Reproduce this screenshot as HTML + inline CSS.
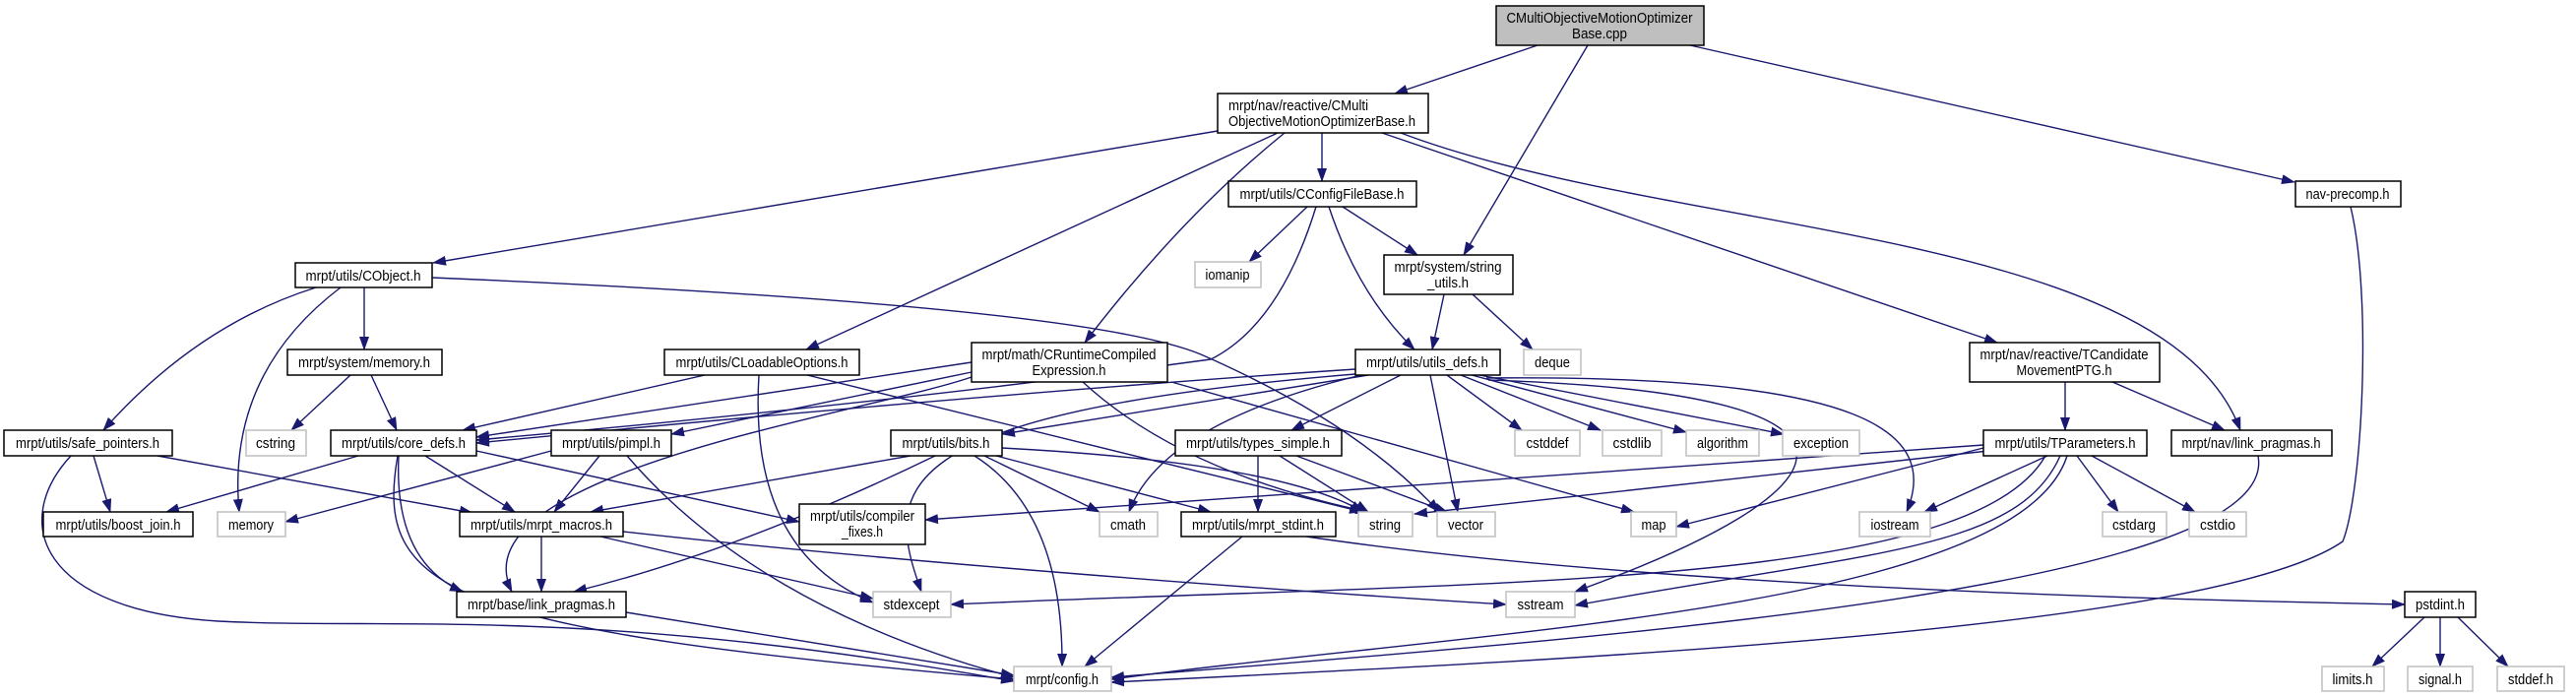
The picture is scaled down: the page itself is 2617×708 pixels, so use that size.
<!DOCTYPE html>
<html><head><meta charset="utf-8"><style>
html,body{margin:0;padding:0;background:#fff;}
svg{display:block;}
text{font-family:"Liberation Sans",sans-serif;font-size:15px;fill:#000;}
.n{fill:#fff;stroke:#000;stroke-width:1.5;}
.g{fill:#fff;stroke:#bfbfbf;stroke-width:1.5;}
.e{fill:none;stroke:#191970;stroke-width:1.4;marker-end:url(#a);}
</style></head><body>
<svg width="2617" height="708" viewBox="0 0 2617 708" xmlns="http://www.w3.org/2000/svg">
<defs><marker id="a" markerUnits="userSpaceOnUse" markerWidth="14" markerHeight="10" refX="13" refY="5" orient="auto"><path d="M0,0 L14,5 L0,10 z" fill="#191970"/></marker></defs>
<g>
<path class="e" d="M1562,46 L1417,95"/>
<path class="e" d="M1613,46 L1487,259"/>
<path class="e" d="M1717,46 L2331,185"/>
<path class="e" d="M1237,133 L440,267"/>
<path class="e" d="M1343,135 L1343,184"/>
<path class="e" d="M1298,135 L819,355"/>
<path class="e" d="M1305,135 Q1200,220 1102,348"/>
<path class="e" d="M1404,135 L2029,348"/>
<path class="e" d="M1423,135 C1700,240 2200,230 2276,437"/>
<path class="e" d="M1328,210 L1269,266"/>
<path class="e" d="M1364,210 L1440,259"/>
<path class="e" d="M1350,210 Q1380,300 1437,355"/>
<path class="e" d="M1337,210 Q1300,330 1230,365 Q900,410 484,447"/>
<path class="e" d="M1467,299 L1455,355"/>
<path class="e" d="M1496,299 L1557,355"/>
<path class="e" d="M321,292 Q200,330 105,437"/>
<path class="e" d="M346,292 Q230,380 243,520"/>
<path class="e" d="M370,292 L370,355"/>
<path class="e" d="M439,282 Q1100,310 1220,360 Q1380,430 1462,520"/>
<path class="e" d="M356,381 L296,437"/>
<path class="e" d="M377,381 L403,437"/>
<path class="e" d="M716,381 L470,437"/>
<path class="e" d="M771,381 Q760,560 887,612"/>
<path class="e" d="M820,381 L1384,520"/>
<path class="e" d="M987,368 L484,444"/>
<path class="e" d="M987,378 L682,441"/>
<path class="e" d="M1100,388 Q1200,480 1390,520"/>
<path class="e" d="M1190,388 L1660,520"/>
<path class="e" d="M987,383 C880,420 460,480 520,601"/>
<path class="e" d="M1377,375 Q1000,400 484,450"/>
<path class="e" d="M1390,381 L1018,441"/>
<path class="e" d="M1423,381 L1312,437"/>
<path class="e" d="M1383,381 Q1180,430 1147,520"/>
<path class="e" d="M1453,381 L1481,520"/>
<path class="e" d="M1470,381 L1546,437"/>
<path class="e" d="M1484,381 L1626,437"/>
<path class="e" d="M1495,381 L1713,439"/>
<path class="e" d="M1503,381 L1812,441"/>
<path class="e" d="M1510,384 C1900,380 1970,440 1937,520"/>
<path class="e" d="M1512,386 C1950,400 1880,500 1600,601"/>
<path class="e" d="M1377,380 C890,420 900,500 936,601"/>
<path class="e" d="M1018,455 Q1300,470 1385,520"/>
<path class="e" d="M1000,463 L1117,520"/>
<path class="e" d="M1012,463 L1230,520"/>
<path class="e" d="M990,463 Q1080,520 1079,677"/>
<path class="e" d="M925,463 L600,520"/>
<path class="e" d="M950,463 Q750,560 583,601"/>
<path class="e" d="M1300,463 L1390,520"/>
<path class="e" d="M1317,463 L1470,520"/>
<path class="e" d="M1278,463 L1278,520"/>
<path class="e" d="M1262,545 L1102,677"/>
<path class="e" d="M1327,545 Q1700,600 2443,614"/>
<path class="e" d="M2098,388 L2098,437"/>
<path class="e" d="M2146,388 L2260,437"/>
<path class="e" d="M2080,463 L1955,520"/>
<path class="e" d="M2110,463 L2152,520"/>
<path class="e" d="M2125,463 L2230,520"/>
<path class="e" d="M2015,455 L1703,535"/>
<path class="e" d="M2015,452 L940,528"/>
<path class="e" d="M2020,458 L1437,522"/>
<path class="e" d="M2093,463 C2050,560 1900,560 1600,615"/>
<path class="e" d="M2078,463 C2000,600 1500,590 966,614"/>
<path class="e" d="M2100,463 C2050,620 1500,640 1129,690"/>
<path class="e" d="M2294,463 C2320,600 1600,650 1129,688"/>
<path class="e" d="M2388,210 C2410,300 2400,500 2380,550 C2250,640 1600,670 1129,693"/>
<path class="e" d="M95,463 L112,520"/>
<path class="e" d="M160,463 L480,521"/>
<path class="e" d="M72,463 C10,530 40,620 222,631 C400,640 600,615 1030,692"/>
<path class="e" d="M364,463 L169,520"/>
<path class="e" d="M432,463 L523,520"/>
<path class="e" d="M484,458 L812,530"/>
<path class="e" d="M405,463 Q400,570 470,601"/>
<path class="e" d="M404,463 C380,600 450,640 1030,690"/>
<path class="e" d="M560,458 L290,530"/>
<path class="e" d="M609,463 L563,520"/>
<path class="e" d="M637,463 C720,560 850,640 1030,688"/>
<path class="e" d="M550,545 L550,601"/>
<path class="e" d="M610,545 L887,608"/>
<path class="e" d="M633,540 C900,570 1300,600 1530,614"/>
<path class="e" d="M636,622 L1030,686"/>
<path class="e" d="M2463,627 L2410,677"/>
<path class="e" d="M2479,627 L2479,677"/>
<path class="e" d="M2497,627 L2548,677"/>
</g>
<g text-anchor="middle">
<rect x="1520" y="6" width="211" height="40" fill="#bfbfbf" stroke="#000" stroke-width="1.5"/>
<text x="1625" y="23" textLength="189" lengthAdjust="spacingAndGlyphs">CMultiObjectiveMotionOptimizer</text>
<text x="1625" y="39" textLength="56" lengthAdjust="spacingAndGlyphs">Base.cpp</text>

<rect class="n" x="1237" y="95" width="214" height="40"/>
<text x="1248" y="112" text-anchor="start" textLength="142" lengthAdjust="spacingAndGlyphs">mrpt/nav/reactive/CMulti</text>
<text x="1248" y="128" text-anchor="start" textLength="190" lengthAdjust="spacingAndGlyphs">ObjectiveMotionOptimizerBase.h</text>

<rect class="n" x="1248" y="184" width="191" height="26"/><text x="1343" y="202" textLength="167" lengthAdjust="spacingAndGlyphs">mrpt/utils/CConfigFileBase.h</text>
<rect class="n" x="2332" y="184" width="107" height="26"/><text x="2385" y="202" textLength="85" lengthAdjust="spacingAndGlyphs">nav-precomp.h</text>
<rect class="n" x="300" y="267" width="139" height="25"/><text x="369" y="285" textLength="117" lengthAdjust="spacingAndGlyphs">mrpt/utils/CObject.h</text>
<rect class="g" x="1214" y="266" width="67" height="26"/><text x="1247" y="284" textLength="45" lengthAdjust="spacingAndGlyphs">iomanip</text>
<rect class="n" x="1406" y="259" width="131" height="40"/>
<text x="1471" y="276" textLength="109" lengthAdjust="spacingAndGlyphs">mrpt/system/string</text>
<text x="1471" y="292" textLength="42" lengthAdjust="spacingAndGlyphs">_utils.h</text>

<rect class="n" x="292" y="355" width="157" height="26"/><text x="370" y="373" textLength="134" lengthAdjust="spacingAndGlyphs">mrpt/system/memory.h</text>
<rect class="n" x="675" y="355" width="198" height="26"/><text x="774" y="373" textLength="175" lengthAdjust="spacingAndGlyphs">mrpt/utils/CLoadableOptions.h</text>
<rect class="n" x="987" y="348" width="199" height="40"/>
<text x="1086" y="365" textLength="177" lengthAdjust="spacingAndGlyphs">mrpt/math/CRuntimeCompiled</text>
<text x="1086" y="381" textLength="75" lengthAdjust="spacingAndGlyphs">Expression.h</text>
<rect class="n" x="1377" y="355" width="147" height="26"/><text x="1450" y="373" textLength="124" lengthAdjust="spacingAndGlyphs">mrpt/utils/utils_defs.h</text>
<rect class="g" x="1548" y="355" width="58" height="26"/><text x="1577" y="373" textLength="36" lengthAdjust="spacingAndGlyphs">deque</text>
<rect class="n" x="2001" y="348" width="193" height="40"/>
<text x="2097" y="365" textLength="171" lengthAdjust="spacingAndGlyphs">mrpt/nav/reactive/TCandidate</text>
<text x="2097" y="381" textLength="97" lengthAdjust="spacingAndGlyphs">MovementPTG.h</text>

<rect class="n" x="4" y="437" width="171" height="26"/><text x="89" y="455" textLength="146" lengthAdjust="spacingAndGlyphs">mrpt/utils/safe_pointers.h</text>
<rect class="g" x="250" y="437" width="61" height="26"/><text x="280" y="455" textLength="40" lengthAdjust="spacingAndGlyphs">cstring</text>
<rect class="n" x="336" y="437" width="148" height="26"/><text x="410" y="455" textLength="126" lengthAdjust="spacingAndGlyphs">mrpt/utils/core_defs.h</text>
<rect class="n" x="560" y="437" width="122" height="26"/><text x="621" y="455" textLength="100" lengthAdjust="spacingAndGlyphs">mrpt/utils/pimpl.h</text>
<rect class="n" x="905" y="437" width="113" height="26"/><text x="961" y="455" textLength="89" lengthAdjust="spacingAndGlyphs">mrpt/utils/bits.h</text>
<rect class="n" x="1194" y="437" width="169" height="26"/><text x="1278" y="455" textLength="146" lengthAdjust="spacingAndGlyphs">mrpt/utils/types_simple.h</text>
<rect class="g" x="1539" y="437" width="66" height="26"/><text x="1572" y="455" textLength="43" lengthAdjust="spacingAndGlyphs">cstddef</text>
<rect class="g" x="1628" y="437" width="60" height="26"/><text x="1658" y="455" textLength="39" lengthAdjust="spacingAndGlyphs">cstdlib</text>
<rect class="g" x="1713" y="437" width="74" height="26"/><text x="1750" y="455" textLength="52" lengthAdjust="spacingAndGlyphs">algorithm</text>
<rect class="g" x="1811" y="437" width="78" height="26"/><text x="1850" y="455" textLength="56" lengthAdjust="spacingAndGlyphs">exception</text>
<rect class="n" x="2015" y="437" width="166" height="26"/><text x="2098" y="455" textLength="143" lengthAdjust="spacingAndGlyphs">mrpt/utils/TParameters.h</text>
<rect class="n" x="2206" y="437" width="163" height="26"/><text x="2287" y="455" textLength="141" lengthAdjust="spacingAndGlyphs">mrpt/nav/link_pragmas.h</text>

<rect class="n" x="44" y="520" width="152" height="25"/><text x="120" y="538" textLength="127" lengthAdjust="spacingAndGlyphs">mrpt/utils/boost_join.h</text>
<rect class="g" x="221" y="520" width="69" height="25"/><text x="255" y="538" textLength="46" lengthAdjust="spacingAndGlyphs">memory</text>
<rect class="n" x="467" y="520" width="166" height="25"/><text x="550" y="538" textLength="144" lengthAdjust="spacingAndGlyphs">mrpt/utils/mrpt_macros.h</text>
<rect class="n" x="812" y="512" width="128" height="41"/>
<text x="876" y="529" textLength="106" lengthAdjust="spacingAndGlyphs">mrpt/utils/compiler</text>
<text x="876" y="545" textLength="42" lengthAdjust="spacingAndGlyphs">_fixes.h</text>
<rect class="g" x="1117" y="520" width="59" height="25"/><text x="1146" y="538" textLength="36" lengthAdjust="spacingAndGlyphs">cmath</text>
<rect class="n" x="1200" y="520" width="157" height="25"/><text x="1278" y="538" textLength="134" lengthAdjust="spacingAndGlyphs">mrpt/utils/mrpt_stdint.h</text>
<rect class="g" x="1380" y="520" width="55" height="25"/><text x="1407" y="538" textLength="32" lengthAdjust="spacingAndGlyphs">string</text>
<rect class="g" x="1460" y="520" width="59" height="25"/><text x="1489" y="538" textLength="36" lengthAdjust="spacingAndGlyphs">vector</text>
<rect class="g" x="1657" y="520" width="46" height="25"/><text x="1680" y="538" textLength="25" lengthAdjust="spacingAndGlyphs">map</text>
<rect class="g" x="1889" y="520" width="72" height="25"/><text x="1925" y="538" textLength="49" lengthAdjust="spacingAndGlyphs">iostream</text>
<rect class="g" x="2136" y="520" width="65" height="25"/><text x="2168" y="538" textLength="44" lengthAdjust="spacingAndGlyphs">cstdarg</text>
<rect class="g" x="2224" y="520" width="58" height="25"/><text x="2253" y="538" textLength="36" lengthAdjust="spacingAndGlyphs">cstdio</text>

<rect class="n" x="464" y="601" width="172" height="26"/><text x="550" y="619" textLength="150" lengthAdjust="spacingAndGlyphs">mrpt/base/link_pragmas.h</text>
<rect class="g" x="887" y="601" width="79" height="26"/><text x="926" y="619" textLength="57" lengthAdjust="spacingAndGlyphs">stdexcept</text>
<rect class="g" x="1530" y="601" width="70" height="26"/><text x="1565" y="619" textLength="47" lengthAdjust="spacingAndGlyphs">sstream</text>
<rect class="n" x="2443" y="601" width="72" height="26"/><text x="2479" y="619" textLength="50" lengthAdjust="spacingAndGlyphs">pstdint.h</text>

<rect class="g" x="1030" y="677" width="99" height="25"/><text x="1079" y="695" textLength="74" lengthAdjust="spacingAndGlyphs">mrpt/config.h</text>
<rect class="g" x="2359" y="677" width="63" height="25"/><text x="2390" y="695" textLength="41" lengthAdjust="spacingAndGlyphs">limits.h</text>
<rect class="g" x="2446" y="677" width="66" height="25"/><text x="2479" y="695" textLength="44" lengthAdjust="spacingAndGlyphs">signal.h</text>
<rect class="g" x="2537" y="677" width="68" height="25"/><text x="2571" y="695" textLength="46" lengthAdjust="spacingAndGlyphs">stddef.h</text>
</g>
</svg>
</body></html>
